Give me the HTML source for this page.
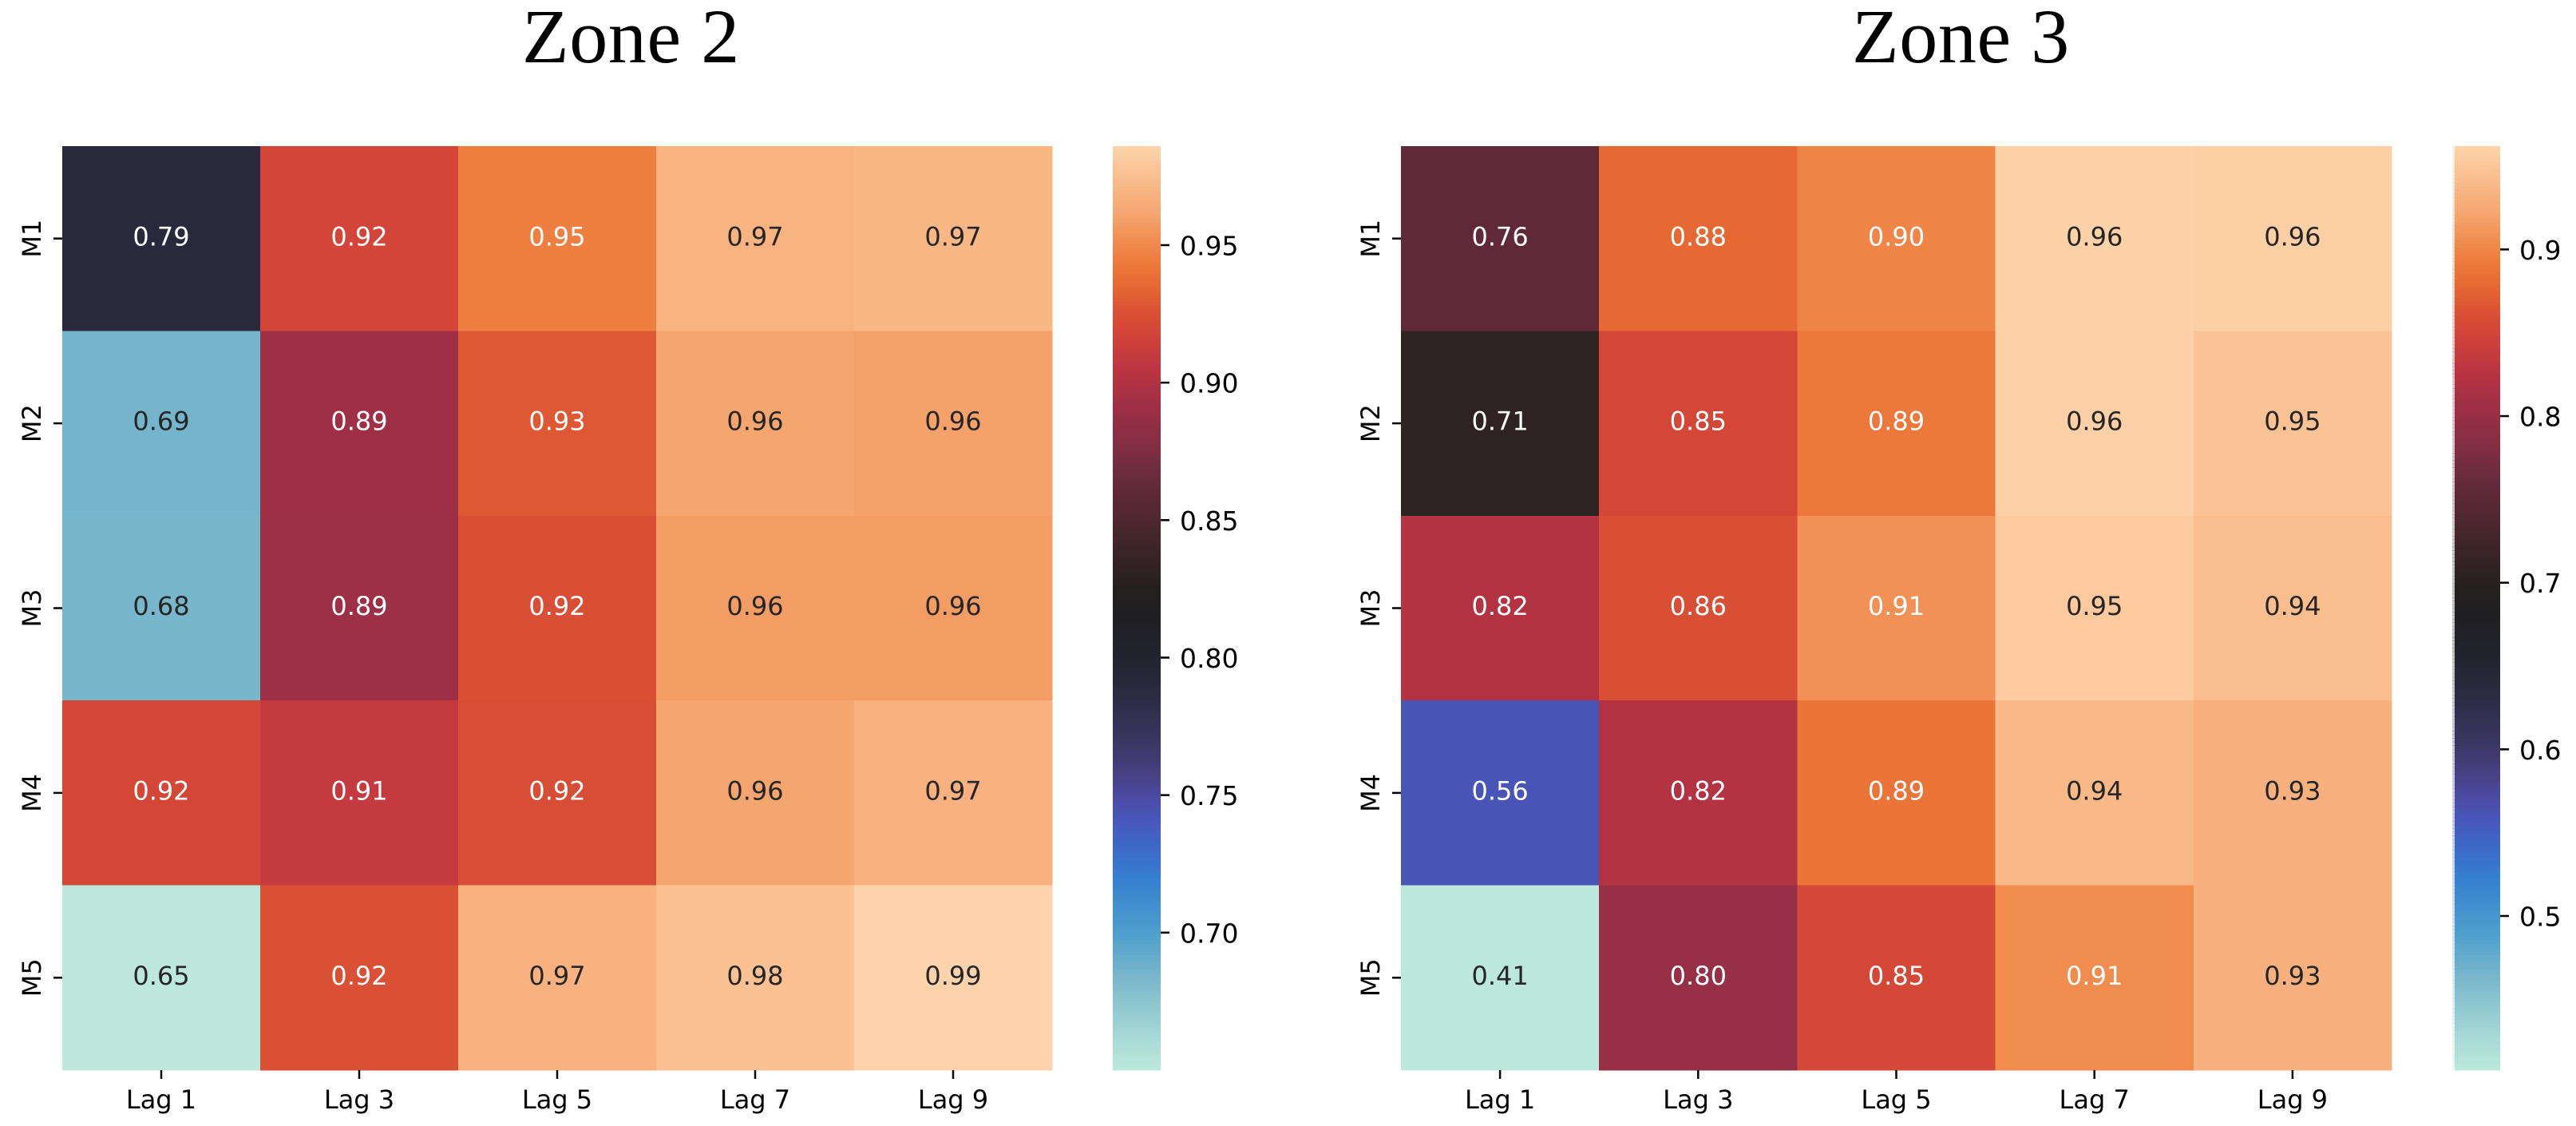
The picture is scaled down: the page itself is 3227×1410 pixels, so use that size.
<!DOCTYPE html>
<html lang="en">
<head>
<meta charset="utf-8">
<title>Zone 2 and Zone 3 heatmaps</title>
<style>
html,body{margin:0;padding:0;background:#fff;width:3227px;height:1410px;overflow:hidden}
svg{display:block}
.title{font-family:"Liberation Serif",serif;font-size:96px;letter-spacing:0.6px;fill:#000}
.tick{font-family:"DejaVu Sans",sans-serif;font-size:32px;fill:#000}
.cbtick{font-family:"DejaVu Sans",sans-serif;font-size:33px;fill:#000}
.annot{font-family:"DejaVu Sans",sans-serif;font-size:32px;text-anchor:middle}
</style>
</head>
<body>
<svg id="chart" xmlns="http://www.w3.org/2000/svg" width="3227" height="1410" viewBox="0 0 3227 1410">
  <rect x="0" y="0" width="3227" height="1410" fill="#ffffff"/>
  <text class="title" x="654" y="78">Zone 2</text>
  <text class="title" x="2320" y="78">Zone 3</text>
</svg>
<script>
const lagLabels = ["Lag 1", "Lag 3", "Lag 5", "Lag 7", "Lag 9"];
const modelLabels = ["M1", "M2", "M3", "M4", "M5"];

const zone2Values = [
  [0.790, 0.919, 0.946, 0.969, 0.971],
  [0.6852, 0.892, 0.929, 0.962, 0.960],
  [0.684, 0.891, 0.9245, 0.958, 0.958],
  [0.920, 0.910, 0.9235, 0.962, 0.968],
  [0.650, 0.9247, 0.968, 0.976, 0.986]
];
const zone3Values = [
  [0.756, 0.879, 0.900, 0.960, 0.958],
  [0.707, 0.853, 0.891, 0.959, 0.947],
  [0.822, 0.860, 0.908, 0.953, 0.942],
  [0.560, 0.822, 0.888, 0.938, 0.932],
  [0.408, 0.800, 0.854, 0.905, 0.932]
];

const zone2Range = [0.65, 0.986];
const zone3Range = [0.4075, 0.962];
const zone2Ticks = [0.70, 0.75, 0.80, 0.85, 0.90, 0.95];
const zone3Ticks = [0.5, 0.6, 0.7, 0.8, 0.9];

const cmapStops = [0, .035, .098, .147, .207, .242, .27, .30, .32, .348, .406, .447, .493, .521, .55, .579, .596, .637, .665, .69, .719, .745, .776, .80, .828, .851, .871, .895, .92, .949, .978, 1];
const cmapColors = ["#bde8db", "#a8dad6", "#7bb8cc", "#4fa0cd", "#3580d0", "#3d69c9", "#4858bb", "#4c489f", "#484184", "#3d3868", "#2c2b41", "#23232f", "#1f1f22", "#252020", "#342325", "#43262b", "#4f2730", "#642a3b", "#7b2d43", "#8c2e45", "#9e2f46", "#b13243", "#c63b3e", "#d34538", "#dd5633", "#e66a33", "#ec773a", "#f08a4c", "#f4a068", "#f8b381", "#fcc699", "#fed3ab"];

const SVG_NS = "http://www.w3.org/2000/svg";
const svg = document.getElementById("chart");

function make(tag, attrs, parent) {
  const el = document.createElementNS(SVG_NS, tag);
  for (const k in attrs) el.setAttribute(k, attrs[k]);
  parent.appendChild(el);
  return el;
}
function hexToRgb(h) {
  return [parseInt(h.slice(1, 3), 16), parseInt(h.slice(3, 5), 16), parseInt(h.slice(5, 7), 16)];
}
function colormap(t) {
  t = Math.max(0, Math.min(1, t));
  let i = 0;
  while (i < cmapStops.length - 2 && t > cmapStops[i + 1]) i++;
  const f = (t - cmapStops[i]) / (cmapStops[i + 1] - cmapStops[i]);
  const a = hexToRgb(cmapColors[i]);
  const b = hexToRgb(cmapColors[i + 1]);
  return [0, 1, 2].map(function (c) { return Math.round(a[c] + (b[c] - a[c]) * f); });
}
function rgbString(c) { return "rgb(" + c[0] + "," + c[1] + "," + c[2] + ")"; }
function luminance(c) {
  const lin = c.map(function (v) {
    const s = v / 255;
    return s <= 0.03928 ? s / 12.92 : Math.pow((s + 0.055) / 1.055, 2.4);
  });
  return 0.2126 * lin[0] + 0.7152 * lin[1] + 0.0722 * lin[2];
}

function drawPanel(panelName, values, range, ticks, tickDigits, geo) {
  const group = make("g", {}, svg);
  
  

  const cellW = (geo.right - geo.left) / lagLabels.length;
  const cellH = (geo.bottom - geo.top) / modelLabels.length;
  const xScale = function (i) { return geo.left + i * cellW; };
  const yScale = function (j) { return geo.top + j * cellH; };
  const norm = function (v) { return (v - range[0]) / (range[1] - range[0]); };
  const cbarScale = function (v) { return geo.bottom - norm(v) * (geo.bottom - geo.top); };

  values.forEach(function (row, j) {
    row.forEach(function (v, i) {
      const col = colormap(norm(v));
      const cell = make("rect", {
        x: xScale(i), y: yScale(j), width: cellW + 0.5, height: cellH + 0.5,
        fill: rgbString(col), "shape-rendering": "crispEdges"
      }, group);
      
      
    });
  });

  values.forEach(function (row, j) {
    row.forEach(function (v, i) {
      const col = colormap(norm(v));
      const label = make("text", {
        class: "annot",
        x: xScale(i) + cellW / 2,
        y: yScale(j) + cellH / 2 + 8.6,
        fill: luminance(col) < 0.408 ? "#ffffff" : "#262626"
      }, group);
      
      
      label.textContent = v.toFixed(2);
    });
  });

  lagLabels.forEach(function (name, i) {
    const cx = xScale(i) + cellW / 2;
    const tick = make("line", { x1: cx, x2: cx, y1: geo.bottom, y2: geo.bottom + 11, stroke: "#000", "stroke-width": 2.5 }, group);
    
    
    const label = make("text", { class: "tick", x: cx, y: 1388, "text-anchor": "middle" }, group);
    
    
    label.textContent = name;
  });

  modelLabels.forEach(function (name, j) {
    const cy = yScale(j) + cellH / 2;
    const tick = make("line", { x1: geo.left - 11, x2: geo.left, y1: cy, y2: cy, stroke: "#000", "stroke-width": 2.5 }, group);
    
    
    const lx = geo.left - 27;
    const label = make("text", { class: "tick", x: lx, y: cy, "text-anchor": "middle", transform: "rotate(-90 " + lx + " " + cy + ")" }, group);
    
    
    label.textContent = name;
  });

  const cbar = make("g", {}, group);
  
  
  const levels = 256;
  for (let k = 0; k < levels; k++) {
    const lo = range[0] + (range[1] - range[0]) * k / levels;
    const hi = range[0] + (range[1] - range[0]) * (k + 1) / levels;
    const yTop = cbarScale(hi);
    const h = cbarScale(lo) - yTop;
    const fill = rgbString(colormap((k + 0.5) / levels));
    if (geo.fringe) {
      const edge = make("rect", {
        x: geo.cbarLeft - geo.fringe, y: yTop, width: geo.fringe, height: h + 0.6,
        fill: fill, opacity: 0.25, "shape-rendering": "crispEdges"
      }, cbar);
      
      
    }
    const band = make("rect", {
      x: geo.cbarLeft, y: yTop, width: geo.cbarRight - geo.cbarLeft, height: h + 0.6,
      fill: fill, "shape-rendering": "crispEdges"
    }, cbar);
    
    
  }

  ticks.forEach(function (v) {
    const y = cbarScale(v);
    const tick = make("line", { x1: geo.cbarRight, x2: geo.cbarRight + 11, y1: y, y2: y, stroke: "#000", "stroke-width": 2.5 }, group);
    
    
    const label = make("text", { class: "cbtick", x: geo.cbarRight + 24, y: y + 12.5 }, group);
    
    
    label.textContent = v.toFixed(tickDigits);
  });
}

drawPanel("zone-2", zone2Values, zone2Range, zone2Ticks, 2, {
  left: 78, right: 1318, top: 183, bottom: 1340, cbarLeft: 1394, cbarRight: 1454, fringe: 0
});
drawPanel("zone-3", zone3Values, zone3Range, zone3Ticks, 1, {
  left: 1755, right: 2996, top: 183, bottom: 1340, cbarLeft: 3075, cbarRight: 3132, fringe: 3
});
</script>
</body>
</html>
